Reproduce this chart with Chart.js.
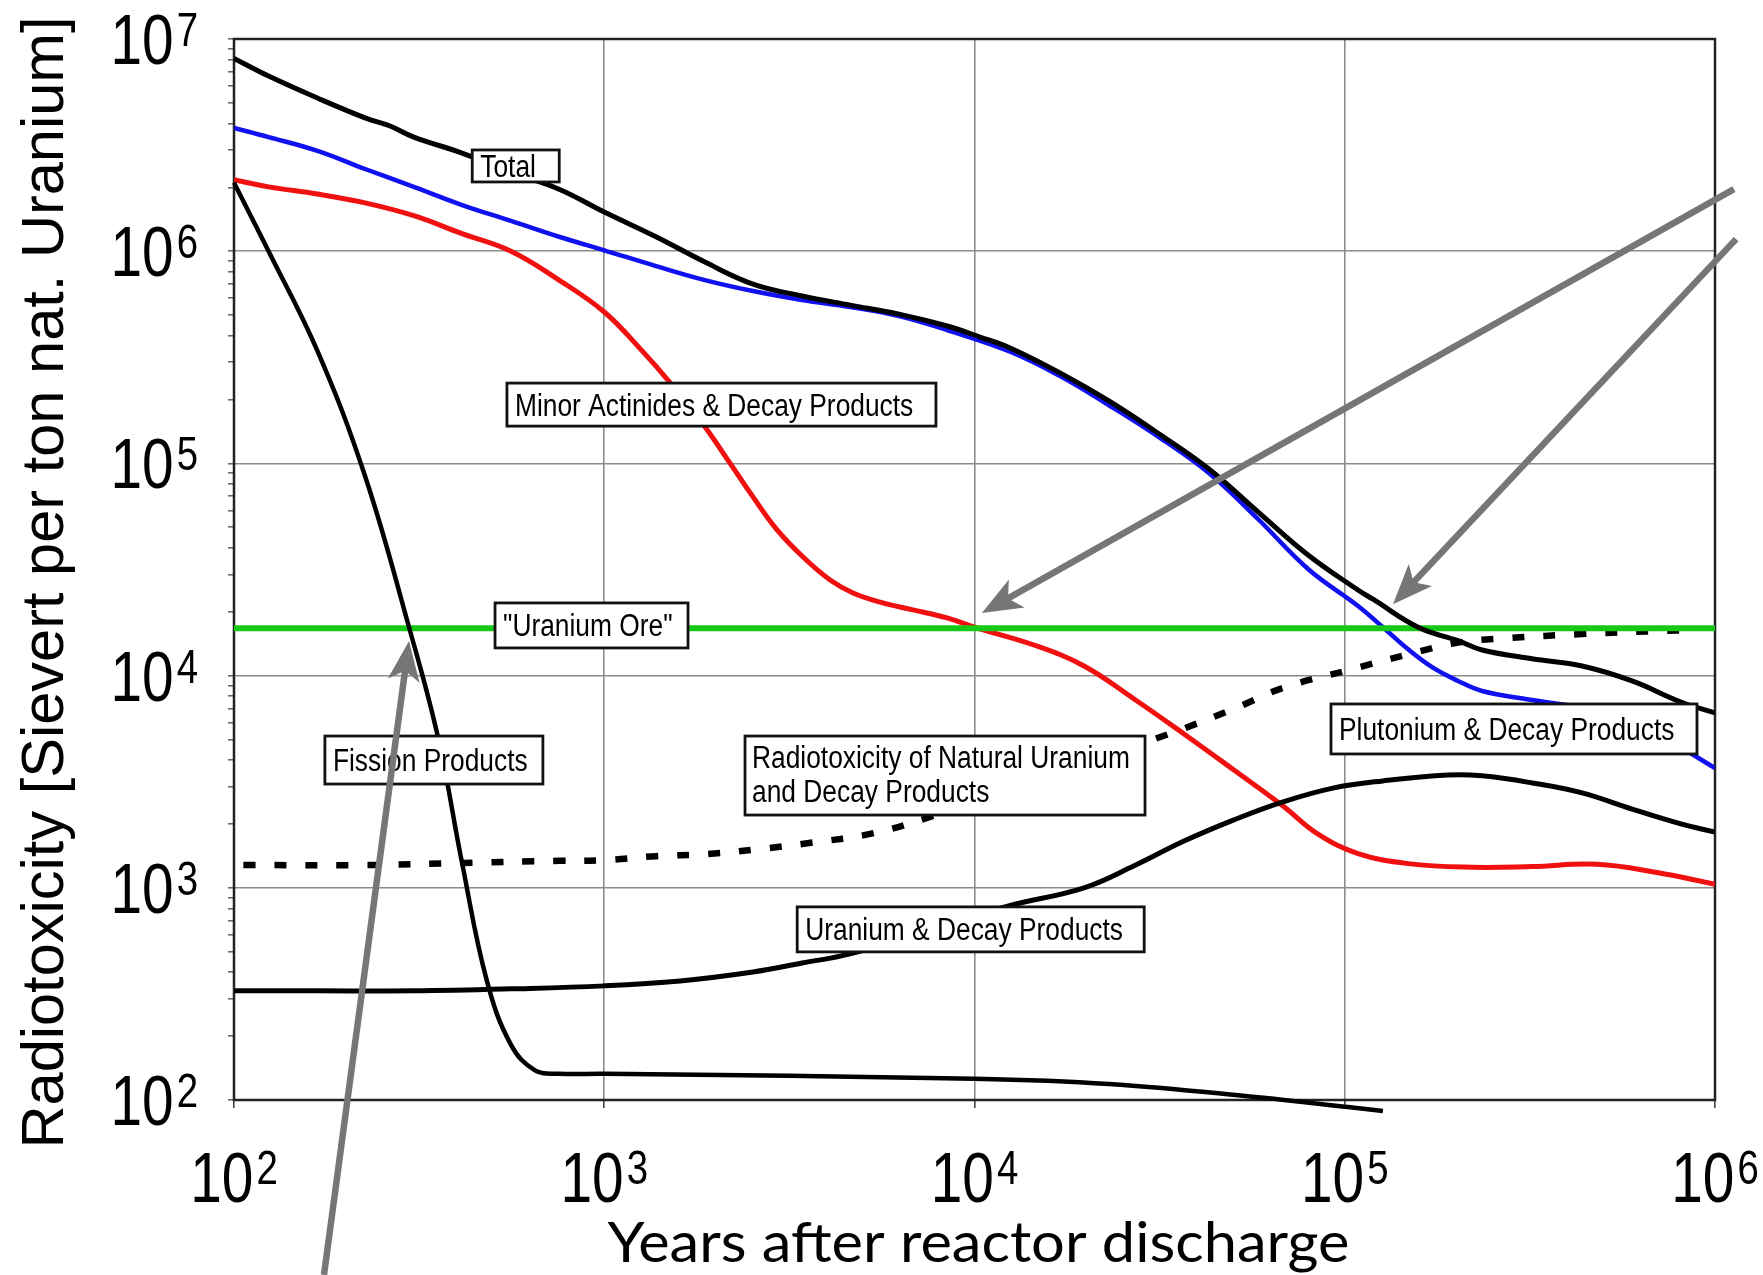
<!DOCTYPE html>
<html>
<head>
<meta charset="utf-8">
<script src="https://cdn.jsdelivr.net/npm/chart.js@4.4.1/dist/chart.umd.min.js"></script>
<style>
html,body{margin:0;padding:0;background:#ffffff;}
#wrap{width:1763px;height:1275px;position:relative;}
</style>
</head>
<body>
<div id="wrap"><canvas id="c"></canvas></div>
<script>
// ---------------- DATA ----------------
const xTickExponents = [2, 3, 4, 5, 6];
const yTickExponents = [2, 3, 4, 5, 6, 7];
const xAxisTitle = 'Years after reactor discharge';
const yAxisTitle = 'Radiotoxicity [Sievert per ton nat. Uranium]';

const totalYears = [100,124,168,226,264,306,413,557,755,1000,1380,1870,2522,3421,4613,6252,8433,10350,12480,17020,23070,31480,42950,58300,79600,108600,119200,157800,202300,234900,320700,437500,597000,809000,1000000];
const totalDose  = [8.1e6,6.69e6,5.27e6,4.25e6,3.89e6,3.45e6,2.90e6,2.36e6,1.96e6,1.53e6,1.17e6,8.89e5,7.0e5,6.15e5,5.57e5,5.05e5,4.44e5,3.94e5,3.50e5,2.67e5,1.97e5,1.38e5,9.42e4,5.91e4,3.70e4,2.53e4,2.29e4,1.69e4,1.46e4,1.32e4,1.20e4,1.11e4,9.44e3,7.51e3,6.67e3];

const plutoniumYears = [100,124,168,226,306,413,560,755,1000,1380,1870,2522,3421,4613,6252,8433,12480,17020,23070,31480,42950,58300,79600,108600,126800,148300,173000,202300,234900,320700,489000,779800,1000000];
const plutoniumDose  = [3.81e6,3.45e6,2.97e6,2.44e6,2.01e6,1.65e6,1.39e6,1.17e6,1.01e6,8.51e5,7.31e5,6.49e5,5.89e5,5.46e5,4.95e5,4.25e5,3.36e5,2.58e5,1.88e5,1.33e5,9.01e4,5.47e4,3.18e4,2.13e4,1.69e4,1.33e4,1.09e4,9.44e3,8.46e3,7.67e3,6.74e3,4.71e3,3.67e3];

const minorActYears = [100,124,168,226,306,413,560,755,1000,1266,1515,1870,2188,2522,2930,3444,4074,4699,5559,6823,8433,10000,14540,19760,26980,36800,50200,68100,84700,108600,148300,220800,320700,480200,696800,1000000];
const minorActDose  = [2.17e6,2.01e6,1.86e6,1.69e6,1.47e6,1.21e6,1.0e6,7.31e5,5.17e5,3.39e5,2.37e5,1.49e5,1.00e5,6.95e4,4.86e4,3.62e4,2.82e4,2.45e4,2.22e4,2.04e4,1.87e4,1.69e4,1.39e4,1.11e4,7760,5310,3590,2430,1790,1450,1300,1250,1260,1290,1180,1040];

const fissionYears = [100,124,168,226,297,356,413,482,560,650,755,1000,10000,23070,58300,102000,126800];
const fissionDose  = [2.1e6,1.0e6,3.39e5,8.7e4,1.69e4,5080,1310,364,182,138,133,133,126,119,103,92.7,88.7];

const uraniumYears = [100,168,306,560,1000,1603,2522,3421,4613,7345,12080,19760,26980,36800,50200,68100,92900,126800,190000,234900,320700,437500,597000,809000,1000000];
const uraniumDose  = [327,327,327,334,345,364,401,442,488,619,813,1000,1270,1660,2090,2540,2950,3190,3400,3370,3120,2800,2350,2000,1830];

const natUraniumYears = [106,226,413,755,1000,1380,1870,2522,3610,5353,7730,16000,33500,50200,68100,102000,148300,202300,274000,437500,696800,889000];
const natUraniumDose  = [1280,1280,1310,1340,1350,1410,1440,1510,1630,1810,2180,3400,5310,6970,8750,10600,12600,14300,15000,15700,16200,16400];

const oreYears = [100, 1000000];
const oreDose  = [16700, 16700];

// annotation labels (anchor = top-left corner in data units)
const labelTexts = [
  ['Total'],
  ['Minor Actinides & Decay Products'],
  ['"Uranium Ore"'],
  ['Fission Products'],
  ['Radiotoxicity of Natural Uranium', 'and Decay Products'],
  ['Uranium & Decay Products'],
  ['Plutonium & Decay Products']
];
const labelAnchorYears = [440, 546, 507, 176, 2400, 3320, 91800];
const labelAnchorDose  = [3.0e6, 2.39e5, 2.20e4, 5190, 5190, 813, 7350];

// arrows: tail -> tip, in data units
const arrowTailYears = [175, 1.125e6, 1.14e6];
const arrowTailDose  = [15.0, 1.96e6, 1.14e6];
const arrowTipYears  = [297, 10470, 1.35e5];
const arrowTipDose   = [14560, 19700, 2.17e4];

// ---------------- BUILD ----------------
const zip = (xs, ys) => xs.map((x, i) => ({x: x, y: ys[i]}));
const lineBase = {pointRadius: 0, pointHoverRadius: 0, fill: false, tension: 0.4};

const datasets = [
  Object.assign({label: 'Total', data: zip(totalYears, totalDose), borderColor: '#000000', borderWidth: 5}, lineBase),
  Object.assign({label: 'Fission Products', data: zip(fissionYears, fissionDose), borderColor: '#000000', borderWidth: 4.5,
                 clip: {left: 10, top: 0, right: 0, bottom: 16}}, lineBase),
  Object.assign({label: 'Uranium & Decay Products', data: zip(uraniumYears, uraniumDose), borderColor: '#000000', borderWidth: 5}, lineBase),
  Object.assign({label: 'Uranium Ore', data: zip(oreYears, oreDose), borderColor: '#16c916', borderWidth: 6}, lineBase),
  Object.assign({label: 'Minor Actinides & Decay Products', data: zip(minorActYears, minorActDose), borderColor: '#f01010', borderWidth: 5}, lineBase),
  Object.assign({label: 'Plutonium & Decay Products', data: zip(plutoniumYears, plutoniumDose), borderColor: '#1010f0', borderWidth: 4.5}, lineBase),
  Object.assign({label: 'Radiotoxicity of Natural Uranium and Decay Products', data: zip(natUraniumYears, natUraniumDose),
                 borderColor: '#000000', borderWidth: 6.5, borderDash: [12, 19]}, lineBase)
];

const isPow10 = v => Math.abs(Math.log10(v) - Math.round(Math.log10(v))) < 1e-9;
const yAllTicks = [];
for (let e = yTickExponents[0]; e < yTickExponents[yTickExponents.length - 1]; e++) {
  for (let m = 1; m <= 9; m++) yAllTicks.push(m * Math.pow(10, e));
}
yAllTicks.push(Math.pow(10, yTickExponents[yTickExponents.length - 1]));

// ---------------- DRAW HELPERS ----------------
function drawText(ctx, text, x, y, font, sx, align) {
  ctx.save();
  ctx.font = font;
  const w = ctx.measureText(text).width * sx;
  const x0 = align === 'center' ? x - w / 2 : (align === 'right' ? x - w : x);
  ctx.translate(x0, y);
  ctx.scale(sx, 1);
  ctx.textAlign = 'left';
  ctx.textBaseline = 'alphabetic';
  ctx.fillStyle = '#000';
  ctx.fillText(text, 0, 0);
  ctx.restore();
  return w;
}
function fitWidthText(ctx, text, cx, y, font, targetW) {
  ctx.save(); ctx.font = font;
  const w = ctx.measureText(text).width;
  ctx.restore();
  drawText(ctx, text, cx, y, font, targetW / w, 'center');
}
function powLabel(ctx, exp, x, baseY, align) {
  const bf = '71px "Liberation Sans", Arial, sans-serif';
  const ef = '48px "Liberation Sans", Arial, sans-serif';
  const sx = 0.8, gap = 3;
  ctx.save();
  ctx.font = bf; const wb = ctx.measureText('10').width * sx;
  ctx.font = ef; const we = ctx.measureText(String(exp)).width * sx;
  ctx.restore();
  const total = wb + gap + we;
  const x0 = align === 'right' ? x - total : x - total / 2;
  drawText(ctx, '10', x0, baseY, bf, sx, 'left');
  drawText(ctx, String(exp), x0 + wb + gap, baseY - 18, ef, sx, 'left');
}
function drawArrow(ctx, x1, y1, x2, y2) {
  const ang = Math.atan2(y2 - y1, x2 - x1);
  const L = 40, W = 16, notch = 10;
  const c = Math.cos(ang), s = Math.sin(ang);
  const bx = x2 - c * (L - notch), by = y2 - s * (L - notch);
  const hx = x2 - c * L, hy = y2 - s * L;
  const px = -s, py = c;
  ctx.save();
  ctx.strokeStyle = '#767676'; ctx.fillStyle = '#767676';
  ctx.lineWidth = 6.5; ctx.lineCap = 'butt';
  ctx.beginPath(); ctx.moveTo(x1, y1); ctx.lineTo(bx, by); ctx.stroke();
  ctx.beginPath();
  ctx.moveTo(x2, y2);
  ctx.lineTo(hx + px * W, hy + py * W);
  ctx.lineTo(bx, by);
  ctx.lineTo(hx - px * W, hy - py * W);
  ctx.closePath(); ctx.fill();
  ctx.restore();
}

const frameAndText = {
  id: 'frameAndText',
  beforeDatasetsDraw(chart) {
    const {ctx, chartArea: a} = chart;
    ctx.save();
    ctx.strokeStyle = '#222';
    ctx.lineWidth = 2.5;
    ctx.strokeRect(a.left, a.top, a.right - a.left, a.bottom - a.top);
    ctx.restore();
  },
  afterDatasetsDraw(chart) {
    const {ctx, scales: {x, y}} = chart;
    const boxSizes = [[87, 32], [429, 43], [193, 45], [218, 48], [400, 79], [347, 45], [366, 50]];
    const lf = '31px "Liberation Sans", Arial, sans-serif';
    labelTexts.forEach((lines, i) => {
      const left = x.getPixelForValue(labelAnchorYears[i]);
      const top = y.getPixelForValue(labelAnchorDose[i]);
      const [w, h] = boxSizes[i];
      ctx.save();
      ctx.fillStyle = '#fff';
      ctx.fillRect(left, top, w, h);
      ctx.strokeStyle = '#111';
      ctx.lineWidth = 2.8;
      ctx.strokeRect(left, top, w, h);
      ctx.restore();
      if (lines.length === 1) {
        drawText(ctx, lines[0], left + 8, top + h / 2 + 11, lf, 0.85, 'left');
      } else {
        drawText(ctx, lines[0], left + 7, top + 32, lf, 0.85, 'left');
        drawText(ctx, lines[1], left + 7, top + 66, lf, 0.85, 'left');
      }
    });
    arrowTailYears.forEach((_, i) => {
      drawArrow(ctx,
        x.getPixelForValue(arrowTailYears[i]), y.getPixelForValue(arrowTailDose[i]),
        x.getPixelForValue(arrowTipYears[i]), y.getPixelForValue(arrowTipDose[i]));
    });
  },
  afterDraw(chart) {
    const {ctx, chartArea: a, scales: {x, y}} = chart;
    xTickExponents.forEach(e => {
      powLabel(ctx, e, x.getPixelForValue(Math.pow(10, e)), a.bottom + 102, 'center');
    });
    yTickExponents.forEach(e => {
      powLabel(ctx, e, a.left - 36, y.getPixelForValue(Math.pow(10, e)) + 25, 'right');
    });
    fitWidthText(ctx, xAxisTitle, (a.left + a.right) / 2 + 4, a.bottom + 162, '56px Lato, "Liberation Sans", sans-serif', 742);
    ctx.save();
    ctx.translate(a.left - 171, (a.top + a.bottom) / 2 + 13);
    ctx.rotate(-Math.PI / 2);
    fitWidthText(ctx, yAxisTitle, 0, 0, '59px "Liberation Sans", Arial, sans-serif', 1132);
    ctx.restore();
  }
};

new Chart(document.getElementById('c'), {
  type: 'line',
  data: {datasets: datasets},
  options: {
    responsive: true,
    maintainAspectRatio: false,
    animation: false,
    devicePixelRatio: 1,
    layout: {padding: {left: 224, right: 48, top: 39, bottom: 165}},
    plugins: {legend: {display: false}, tooltip: {enabled: false}, title: {display: false}},
    scales: {
      x: {
        type: 'logarithmic',
        min: Math.pow(10, xTickExponents[0]),
        max: Math.pow(10, xTickExponents[xTickExponents.length - 1]),
        afterBuildTicks: s => { s.ticks = xTickExponents.map(e => ({value: Math.pow(10, e), major: true})); },
        afterFit: s => { s.height = 10; },
        ticks: {display: false},
        border: {display: false},
        grid: {color: '#8c8c8c', lineWidth: 1.6, drawTicks: true, tickLength: 8, tickColor: '#444', tickWidth: 1.6}
      },
      y: {
        type: 'logarithmic',
        min: Math.pow(10, yTickExponents[0]),
        max: Math.pow(10, yTickExponents[yTickExponents.length - 1]),
        afterBuildTicks: s => { s.ticks = yAllTicks.map(v => ({value: v, major: isPow10(v)})); },
        afterFit: s => { s.width = 10; },
        ticks: {display: false},
        border: {display: false},
        grid: {
          color: c => (c.tick && isPow10(c.tick.value)) ? '#8c8c8c' : 'rgba(0,0,0,0)',
          lineWidth: 1.6, drawTicks: true, tickLength: 6, tickColor: '#555', tickWidth: 1.4
        }
      }
    }
  },
  plugins: [frameAndText]
});
</script>
</body>
</html>
